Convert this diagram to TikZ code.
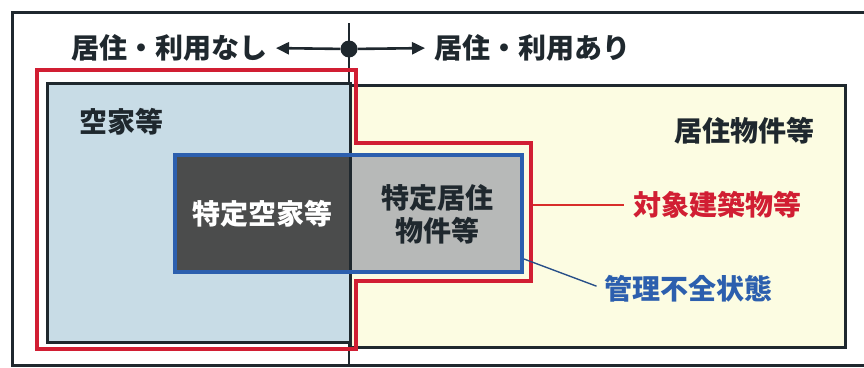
\documentclass[tikz,border=0pt]{standalone}
\usepackage{fontspec}
\newfontfamily\jpfont{Noto Sans CJK JP}
\usetikzlibrary{arrows.meta,calc}

\definecolor{inkdark}{HTML}{1F282E}
\definecolor{vacantblue}{HTML}{C8DCE6}
\definecolor{residyellow}{HTML}{FCFCE2}
\definecolor{spdark}{HTML}{4B4C4C}
\definecolor{splight}{HTML}{B7B9B8}
\definecolor{targetred}{HTML}{D11E33}
\definecolor{mgmtblue}{HTML}{2C5FAE}

\begin{document}
\begin{tikzpicture}[x=1pt,y=-1pt,
  lbl/.style={font=\jpfont\bfseries\fontsize{28}{33}\selectfont, inner sep=0pt, text=inkdark},
  arr/.style={line width=2.6pt, draw=inkdark, -{Triangle[length=13pt,width=12pt]}}]

\def\frameline{3pt}
\def\boxline{3pt}
\def\redline{3.5pt}
\def\blueline{4pt}

\useasboundingbox (0,0) rectangle (864,367);

% frame and divider
\draw[line width=\frameline, draw=inkdark] (12,12) rectangle (872,365);
\draw[line width=1.2pt, draw=inkdark] (349,23) -- (349,367);

% top labels
\node[circle, fill=inkdark, inner sep=0pt, minimum size=17pt] (hub) at (349,49) {};
\node[lbl, anchor=east] (nouse) at (268,48) {居住・利用なし};
\node[lbl, anchor=west] (use) at (434,48) {居住・利用あり};
\draw[arr, shorten >=8pt] (hub) -- (nouse.east);
\draw[arr, shorten >=9pt] (hub) -- (use.west);

% boxes
\coordinate (E1) at (47,83);
\coordinate (E2) at (350,342);
\coordinate (R1) at (350,85);
\coordinate (R2) at (845,347);
\filldraw[fill=residyellow, draw=inkdark, line width=\boxline] (R1) rectangle (R2);
\filldraw[fill=vacantblue, draw=inkdark, line width=\boxline] (E1) rectangle (E2);

% target outline
\draw[targetred, line width=\redline]
	(37,70) -- (356,70) -- (356,143) -- (531,143)
	-- (531,281) -- (356,281) -- (356,349) -- (37,349) -- cycle;

% special box
\coordinate (B1) at (175,155);
\coordinate (B2) at (522,272);
\fill[spdark] (B1) rectangle (350,272);
\fill[splight] (350,155) rectangle (B2);
\draw[inkdark, line width=\boxline] (350,155) -- (350,272);
\draw[mgmtblue, line width=\blueline] (B1) rectangle (B2);

% texts
\node[lbl, anchor=west] (vacant) at (79,122) {空家等};
\node[lbl, anchor=east] (resid) at (815,131) {居住物件等};
\node[lbl, text=white] (spvacant) at (262,214) {特定空家等};
\node[lbl, align=center] (spresid) at (437,214) {特定居住\\物件等};
\node[lbl, text=targetred, anchor=west] (target) at (633,205) {対象建築物等};
\node[lbl, text=mgmtblue, anchor=west] (mgmt) at (604,289) {管理不全状態};

% connectors
\coordinate (targetpt) at (533,205);
\coordinate (mgmtpt) at (524,259);
\draw[line width=1.2pt, draw=targetred!85!orange, shorten >=9pt] (targetpt) -- (target.west);
\draw[line width=1.4pt, draw=mgmtblue!70!inkdark, shorten >=8pt] (mgmtpt) -- (mgmt.west);

\end{tikzpicture}
\end{document}
